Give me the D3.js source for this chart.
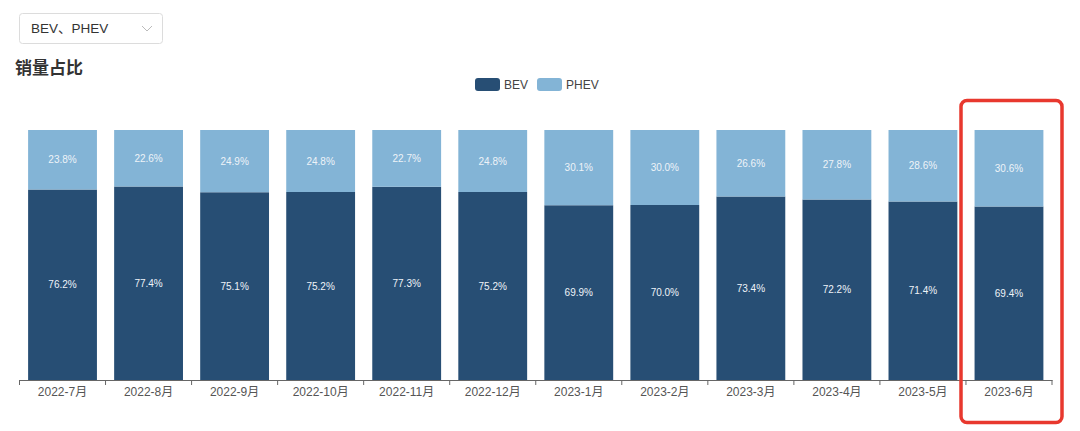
<!DOCTYPE html>
<html>
<head>
<meta charset="utf-8">
<script src="https://cdn.jsdelivr.net/npm/d3@7"></script>
<style>
html,body{margin:0;padding:0;background:#fff;}
svg{display:block;font-family:"Noto Sans CJK SC","Noto Sans",sans-serif;}
</style>
</head>
<body>
<svg id="chart" width="1080" height="431"></svg>
<script>
const categories = ["2022-7月","2022-8月","2022-9月","2022-10月","2022-11月","2022-12月","2023-1月","2023-2月","2023-3月","2023-4月","2023-5月","2023-6月"];
const bevValues = [76.2,77.4,75.1,75.2,77.3,75.2,69.9,70.0,73.4,72.2,71.4,69.4];
const phevValues = [23.8,22.6,24.9,24.8,22.7,24.8,30.1,30.0,26.6,27.8,28.6,30.6];
const seriesNames = ["BEV","PHEV"];
const seriesColors = ["#274e74","#83b4d6"];

const svg = d3.select("#chart");
const W = 1080, H = 431;
const margin = {left:19.5, right:28, top:130, bottom:51};
const x = d3.scaleBand().domain(categories).range([margin.left, W - margin.right]).paddingInner(0.2).paddingOuter(0.1);
const y = d3.scaleLinear().domain([0,100]).range([H - margin.bottom, margin.top]);

const rows = categories.map((c,i)=>({cat:c, BEV:bevValues[i], PHEV:phevValues[i]}));
const stacked = d3.stack().keys(seriesNames)(rows);

// dropdown
const dd = svg.append("g");
dd.append("rect").attr("x",19.5).attr("y",13.5).attr("width",143).attr("height",30).attr("rx",3)
  .attr("fill","#fff").attr("stroke","#dcdcdc");
dd.append("text").attr("x",31).attr("y",33).attr("font-size",13.5).attr("fill","#333")
  .attr("font-family","Helvetica, Arial, 'Liberation Sans', 'Noto Sans CJK SC', sans-serif").text("BEV、PHEV");
dd.append("path").attr("d","M142,26 L147,31 L152,26").attr("fill","none").attr("stroke","#bbb").attr("stroke-width",1);

// title
svg.append("text").attr("x",15).attr("y",74).attr("font-size",17).attr("font-weight","bold").attr("fill","#333").text("销量占比");

// legend
const leg = svg.append("g");
const legX = [475, 537];
seriesNames.forEach((n,i)=>{
  leg.append("rect").attr("x",legX[i]).attr("y",78).attr("width",25).attr("height",13).attr("rx",3).attr("fill",seriesColors[i]);
  leg.append("text").attr("x",legX[i]+29).attr("y",89).attr("font-size",12).attr("fill","#444")
    .attr("font-family","Helvetica, Arial, 'Liberation Sans', sans-serif").text(n);
});

// bars
const gBars = svg.append("g");
stacked.forEach((s,si)=>{
  const g = gBars.append("g").attr("fill",seriesColors[si]);
  g.selectAll("rect").data(s).join("rect")
    .attr("x",d=>x(d.data.cat))
    .attr("width",x.bandwidth())
    .attr("y",d=>y(d[1]))
    .attr("height",d=>y(d[0])-y(d[1]));
  g.selectAll("text").data(s).join("text")
    .attr("x",d=>x(d.data.cat)+x.bandwidth()/2)
    .attr("y",d=>(y(d[0])+y(d[1]))/2+3.5)
    .attr("text-anchor","middle")
    .attr("font-size",10)
    .attr("font-family","Helvetica, Arial, 'Liberation Sans', sans-serif")
    .attr("fill","#eef3f8")
    .text(d=>(d[1]-d[0]).toFixed(1)+"%");
});

// axis
const axis = svg.append("g").attr("transform",`translate(0,${H - margin.bottom})`)
  .call(d3.axisBottom(x).tickSizeOuter(0).tickSizeInner(0));
axis.select(".domain").attr("stroke","#666");
axis.selectAll(".tick text").attr("font-size",12).attr("fill","#555").attr("dy","1.1em")
  .attr("font-family","Helvetica, Arial, 'Liberation Sans', 'Noto Sans CJK SC', sans-serif");
// boundary ticks between bands
const step = x.step();
const bounds = d3.range(categories.length+1).map(i=>x.range()[0] + i*step);
axis.selectAll(".btick").data(bounds).join("line").attr("class","btick")
  .attr("x1",d=>d).attr("x2",d=>d).attr("y1",0).attr("y2",5).attr("stroke","#666");

// highlight box
svg.append("rect").attr("x",961).attr("y",100.5).attr("width",101).attr("height",322).attr("rx",6)
  .attr("fill","none").attr("stroke","#e8382e").attr("stroke-width",3.5);
</script>
</body>
</html>
